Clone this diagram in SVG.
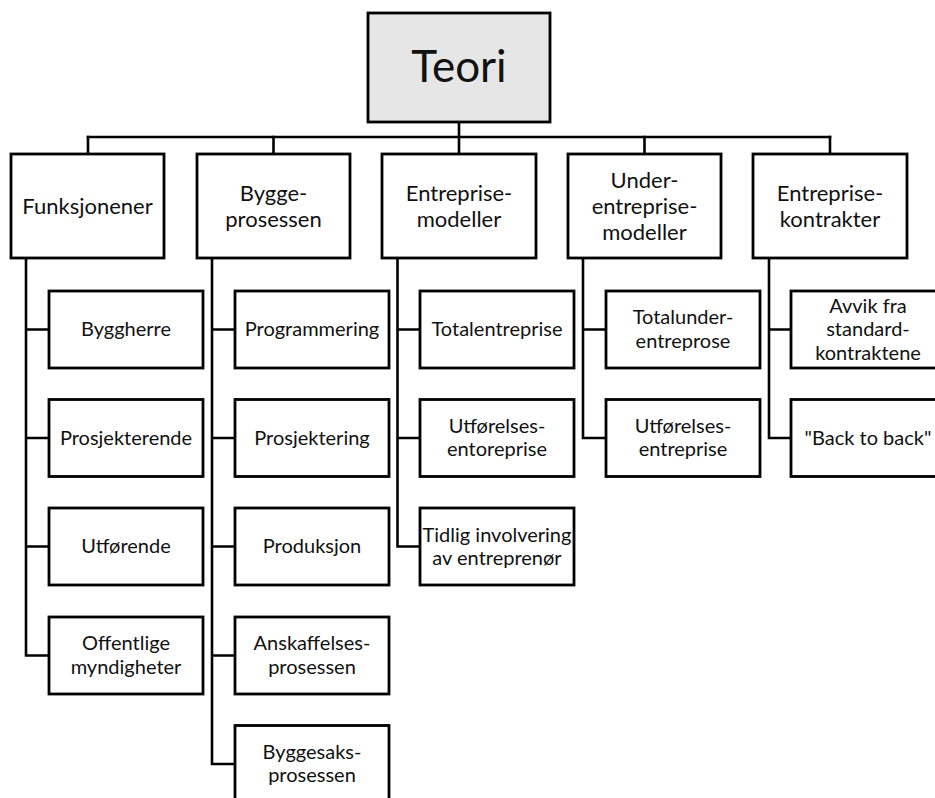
<svg xmlns="http://www.w3.org/2000/svg" width="935" height="798" viewBox="0 0 935 798">
  <style>
    .box { fill: #ffffff; stroke: #000000; stroke-width: 2.8; }
    .root { fill: #e6e6e6; stroke: #000000; stroke-width: 2.8; }
    .wire { fill: none; stroke: #000000; stroke-width: 2.6; stroke-linejoin: miter; stroke-linecap: square; }
    text { font-family: "Lato", "Liberation Sans", sans-serif; fill: #111111; text-anchor: middle; }
    .t0 { font-size: 44px; }
    .t1 { font-size: 22px; }
    .t2 { font-size: 20px; }
  </style>

  <!-- connectors -->
  <g id="connectors">
    <!-- root to the top bar -->
    <path class="wire" d="M459 122 V137" stroke-width="4"/>
    <path class="wire" d="M88 137 H830"/>
    <path class="wire" d="M88 137 V154 M273.5 137 V154 M459 137 V154 M644.5 137 V154 M830 137 V154"/>
    <!-- Funksjonener branch -->
    <path class="wire" d="M26 258 V655.5 M26 329.5 H49 M26 438 H49 M26 546.5 H49 M26 655.5 H49"/>
    <!-- Byggeprosessen branch -->
    <path class="wire" d="M212 258 V764 M212 329.5 H235 M212 438 H235 M212 546.5 H235 M212 655.5 H235 M212 764 H235"/>
    <!-- Entreprisemodeller branch -->
    <path class="wire" d="M397.5 258 V546.5 M397.5 329.5 H420 M397.5 438 H420 M397.5 546.5 H420"/>
    <!-- Underentreprisemodeller branch -->
    <path class="wire" d="M583 258 V438 M583 329.5 H606 M583 438 H606"/>
    <!-- Entreprisekontrakter branch -->
    <path class="wire" d="M769 258 V438 M769 329.5 H791 M769 438 H791"/>
  </g>

  <!-- root -->
  <g id="teori">
    <rect class="root" x="368" y="13" width="182" height="109"/>
    <text class="t0" x="459" y="82">Teori</text>
  </g>

  <!-- second level -->
  <g id="funksjonener">
    <rect class="box" x="11" y="154" width="153" height="104"/>
    <text class="t1" x="87.5" y="213.5">Funksjonener</text>
  </g>
  <g id="byggeprosessen">
    <rect class="box" x="197" y="154" width="153" height="104"/>
    <text class="t1" x="273.5" y="200.5">Bygge-</text>
    <text class="t1" x="273.5" y="226.5">prosessen</text>
  </g>
  <g id="entreprisemodeller">
    <rect class="box" x="382" y="154" width="154" height="104"/>
    <text class="t1" x="459" y="200.5">Entreprise-</text>
    <text class="t1" x="459" y="226.5">modeller</text>
  </g>
  <g id="underentreprisemodeller">
    <rect class="box" x="568" y="154" width="153" height="104"/>
    <text class="t1" x="644.5" y="187.5">Under-</text>
    <text class="t1" x="644.5" y="213.5">entreprise-</text>
    <text class="t1" x="644.5" y="239.5">modeller</text>
  </g>
  <g id="entreprisekontrakter">
    <rect class="box" x="753" y="154" width="154" height="104"/>
    <text class="t1" x="830" y="200.5">Entreprise-</text>
    <text class="t1" x="830" y="226.5">kontrakter</text>
  </g>

  <!-- Funksjonener children -->
  <g id="byggherre">
    <rect class="box" x="49" y="291" width="154" height="77"/>
    <text class="t2" x="126" y="336">Byggherre</text>
  </g>
  <g id="prosjekterende">
    <rect class="box" x="49" y="399.5" width="154" height="77"/>
    <text class="t2" x="126" y="444.5">Prosjekterende</text>
  </g>
  <g id="utforende">
    <rect class="box" x="49" y="508" width="154" height="77"/>
    <text class="t2" x="126" y="553">Utførende</text>
  </g>
  <g id="offentlige-myndigheter">
    <rect class="box" x="49" y="617" width="154" height="77"/>
    <text class="t2" x="126" y="650">Offentlige</text>
    <text class="t2" x="126" y="673.5">myndigheter</text>
  </g>

  <!-- Byggeprosessen children -->
  <g id="programmering">
    <rect class="box" x="235" y="291" width="154" height="77"/>
    <text class="t2" x="312" y="336">Programmering</text>
  </g>
  <g id="prosjektering">
    <rect class="box" x="235" y="399.5" width="154" height="77"/>
    <text class="t2" x="312" y="444.5">Prosjektering</text>
  </g>
  <g id="produksjon">
    <rect class="box" x="235" y="508" width="154" height="77"/>
    <text class="t2" x="312" y="553">Produksjon</text>
  </g>
  <g id="anskaffelsesprosessen">
    <rect class="box" x="235" y="617" width="154" height="77"/>
    <text class="t2" x="312" y="650">Anskaffelses-</text>
    <text class="t2" x="312" y="673.5">prosessen</text>
  </g>
  <g id="byggesaksprosessen">
    <rect class="box" x="235" y="725.5" width="154" height="77"/>
    <text class="t2" x="312" y="758.5">Byggesaks-</text>
    <text class="t2" x="312" y="782">prosessen</text>
  </g>

  <!-- Entreprisemodeller children -->
  <g id="totalentreprise">
    <rect class="box" x="420" y="291" width="154" height="77"/>
    <text class="t2" x="497" y="336">Totalentreprise</text>
  </g>
  <g id="utforelsesentoreprise">
    <rect class="box" x="420" y="399.5" width="154" height="77"/>
    <text class="t2" x="497" y="432.5">Utførelses-</text>
    <text class="t2" x="497" y="456">entoreprise</text>
  </g>
  <g id="tidlig-involvering">
    <rect class="box" x="420" y="508" width="154" height="77"/>
    <text class="t2" x="497" y="541.5">Tidlig involvering</text>
    <text class="t2" x="497" y="565">av entreprenør</text>
  </g>

  <!-- Underentreprisemodeller children -->
  <g id="totalunderentreprose">
    <rect class="box" x="606" y="291" width="154" height="77"/>
    <text class="t2" x="683" y="324">Totalunder-</text>
    <text class="t2" x="683" y="347.5">entreprose</text>
  </g>
  <g id="utforelsesentreprise">
    <rect class="box" x="606" y="399.5" width="154" height="77"/>
    <text class="t2" x="683" y="432.5">Utførelses-</text>
    <text class="t2" x="683" y="456">entreprise</text>
  </g>

  <!-- Entreprisekontrakter children -->
  <g id="avvik-standardkontraktene">
    <rect class="box" x="791" y="291" width="154" height="77"/>
    <text class="t2" x="868" y="312.5">Avvik fra</text>
    <text class="t2" x="868" y="336">standard-</text>
    <text class="t2" x="868" y="359.5">kontraktene</text>
  </g>
  <g id="back-to-back">
    <rect class="box" x="791" y="399.5" width="154" height="77"/>
    <text class="t2" x="868" y="444.5">"Back to back"</text>
  </g>
</svg>
